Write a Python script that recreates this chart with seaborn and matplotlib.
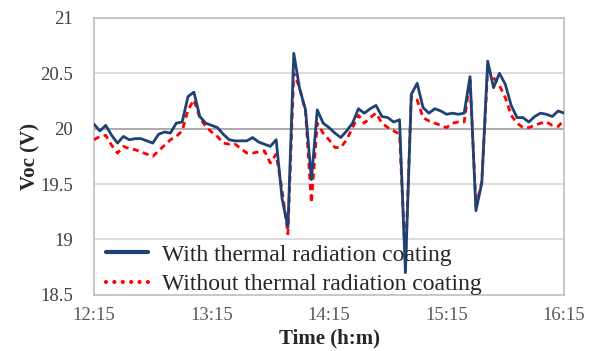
import pandas as pd
import seaborn as sns
import matplotlib.pyplot as plt
import numpy as np
from matplotlib.lines import Line2D

# sampled every 3 minutes, 12:15 -> 16:15
times = pd.date_range("2020-01-01 12:15", periods=81, freq="3min")

voc_with = [20.04, 19.98, 20.03, 19.94, 19.87, 19.93, 19.90, 19.91, 19.91, 19.89,
            19.87, 19.95, 19.97, 19.96, 20.05, 20.06, 20.29, 20.33, 20.11, 20.05,
            20.03, 20.01, 19.95, 19.90, 19.89, 19.89, 19.89, 19.92, 19.88, 19.86,
            19.84, 19.90, 19.37, 19.11, 20.68, 20.36, 20.17, 19.54, 20.17, 20.05,
            20.01, 19.96, 19.92, 19.98, 20.05, 20.18, 20.14, 20.18, 20.21, 20.11,
            20.10, 20.06, 20.08, 18.70, 20.31, 20.41, 20.19, 20.14, 20.18, 20.16,
            20.13, 20.14, 20.13, 20.14, 20.47, 19.26, 19.51, 20.61, 20.37, 20.50,
            20.40, 20.21, 20.10, 20.10, 20.06, 20.11, 20.14, 20.13, 20.11, 20.16,
            20.14]

voc_without = [19.90, 19.93, 19.94, 19.85, 19.78, 19.84, 19.82, 19.81, 19.79, 19.77,
               19.75, 19.80, 19.85, 19.90, 19.93, 19.98, 20.17, 20.26, 20.10, 20.02,
               19.97, 19.93, 19.87, 19.86, 19.86, 19.82, 19.78, 19.78, 19.79, 19.80,
               19.69, 19.77, 19.45, 19.05, 20.50, 20.37, 20.15, 19.33, 20.05, 19.96,
               19.90, 19.83, 19.83, 19.90, 20.01, 20.12, 20.05, 20.10, 20.14, 20.05,
               20.01, 19.98, 19.95, 18.80, 20.29, 20.26, 20.10, 20.07, 20.05, 20.03,
               20.01, 20.05, 20.06, 20.06, 20.44, 19.30, 19.52, 20.53, 20.46, 20.39,
               20.28, 20.12, 20.05, 20.01, 20.01, 20.03, 20.05, 20.06, 20.03, 20.02,
               20.08]

tick_labels = ["12:15", "13:15", "14:15", "15:15", "16:15"]

df = pd.DataFrame({"time": times, "with": voc_with, "without": voc_without})
df["minutes"] = (df["time"] - df["time"].iloc[0]).dt.total_seconds() / 60

sns.set_style("white")
plt.rcParams["font.family"] = ["Liberation Serif", "DejaVu Serif"]

fig = plt.figure(figsize=(5.95, 3.51), dpi=100)
ax = fig.add_axes([0.158, 0.16, 0.79, 0.789])

sns.lineplot(data=df, x="minutes", y="without", ax=ax, color="#ff0000",
             linewidth=2.0, linestyle=(0, (2.2, 1.6)), zorder=3)
sns.lineplot(data=df, x="minutes", y="with", ax=ax, color="#1f4275",
             linewidth=2.0, zorder=4)

ax.set_xlim(0, 240)
ax.set_ylim(18.5, 21)
ax.set_xticks([0, 60, 120, 180, 240])
ax.set_xticklabels(tick_labels)
ax.set_yticks([18.5, 19, 19.5, 20, 20.5, 21])
ax.set_yticklabels(["18.5", "19", "19.5", "20", "20.5", "21"])
ax.tick_params(axis="x", direction="in", length=4, color="#bfbfbf",
               labelsize=13.5, labelcolor="#595959", pad=9)
ax.tick_params(axis="y", length=0, labelsize=13.5, labelcolor="#404040", pad=15)

for yv in [19, 19.5, 20.5, 21]:
    ax.axhline(yv, color="#d9d9d9", lw=1.3, zorder=1)
ax.axhline(20, color="#a6a6a6", lw=1.3, zorder=1)

for s in ax.spines.values():
    s.set_color("#bfbfbf")
    s.set_linewidth(1.2)

ax.set_xlabel("Time (h:m)", fontsize=15, fontweight="bold", labelpad=3)
ax.set_ylabel("Voc (V)", fontsize=15, fontweight="bold", labelpad=0)

handles = [
    Line2D([], [], color="#1f4275", lw=3.0),
    Line2D([], [], color="#ff0000", lw=3.0, linestyle=(0, (0.01, 2.0)),
           dash_capstyle="round"),
]
ax.legend(handles, ["With thermal radiation coating", "Without thermal radiation coating"],
          loc="lower left", bbox_to_anchor=(0.0, -0.045), frameon=False,
          fontsize=17, handlelength=1.8, handletextpad=0.6, labelspacing=0.35,
          borderaxespad=0.1)

plt.savefig("out.png", dpi=100)
